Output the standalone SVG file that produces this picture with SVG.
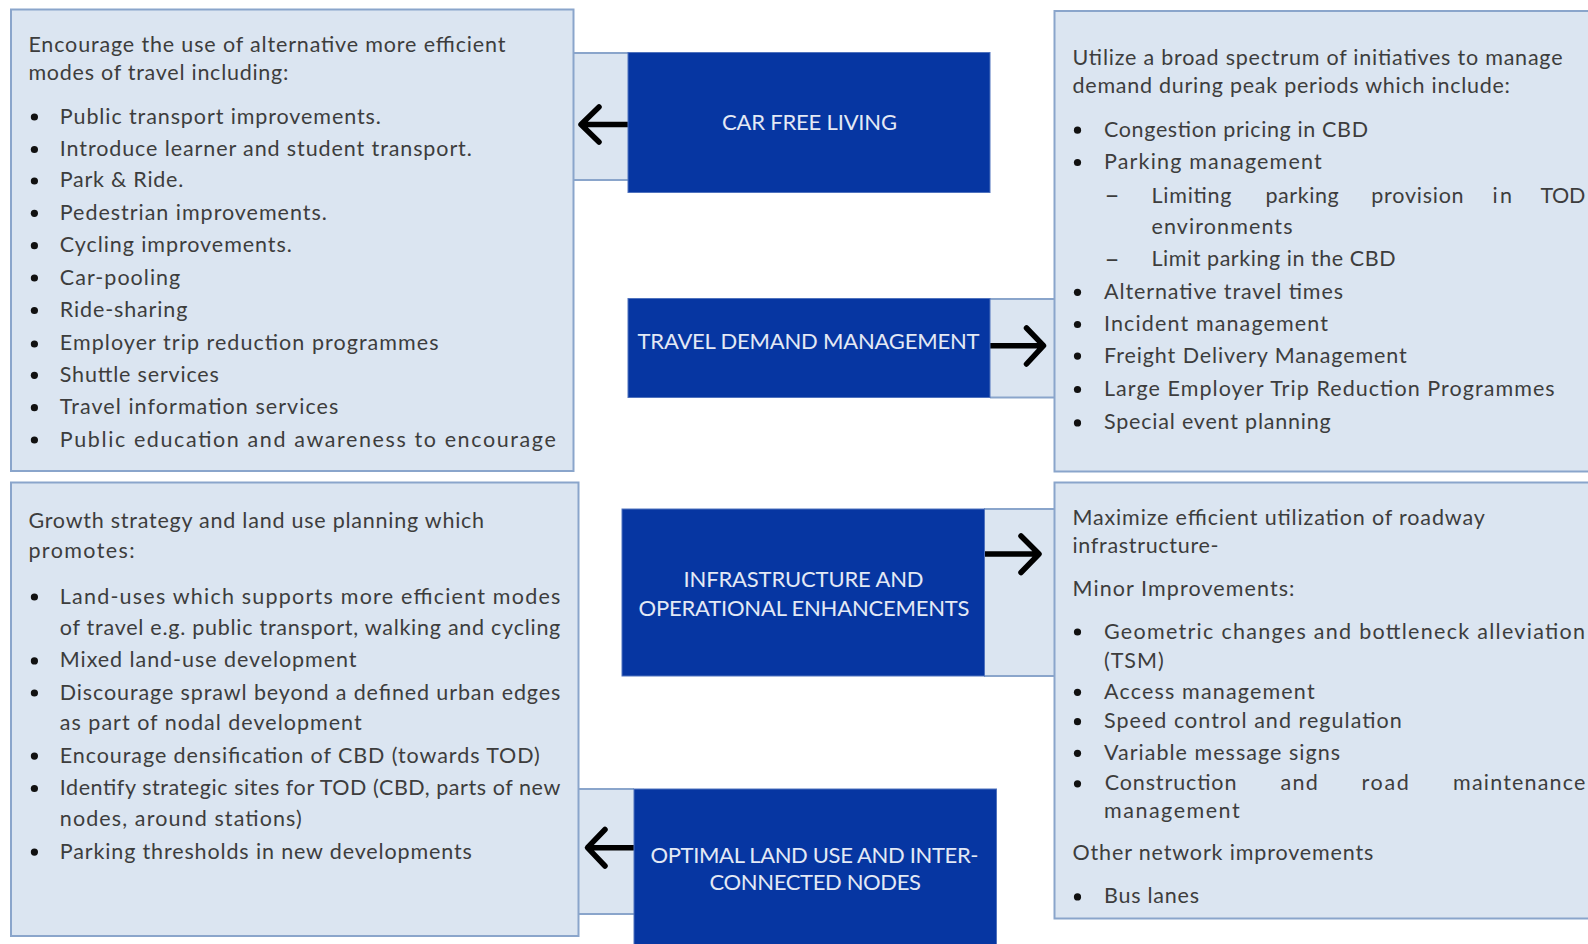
<svg xmlns="http://www.w3.org/2000/svg" width="1588" height="944" viewBox="0 0 1588 944">
<defs>
<style>
.box{fill:#dbe5f1;stroke:#8aa5cb;stroke-width:2}
.panel{fill:#dbe5f1;stroke:none}
.pline{stroke:#8aa5cb;stroke-width:2;fill:none}
.blue{fill:#0636a2;stroke:#4f72bd;stroke-width:1}
.t{font-family:Lato,'Open Sans','Liberation Sans',sans-serif;font-size:21.5px;fill:#3d3d3d}
.d{font-family:Lato,'Open Sans','Liberation Sans',sans-serif;font-size:26px;fill:#3d3d3d}
.lbl{font-family:Lato,'Open Sans','Liberation Sans',sans-serif;font-size:22px;fill:#e3e9f5}
.b{fill:#111}
.arrow{fill:none;stroke:#000;stroke-width:5.5;stroke-linecap:round;stroke-linejoin:round}
</style>
</defs>
<rect width="1588" height="944" fill="#ffffff"/>

<g id="connectors">
  <rect class="panel" x="573.5" y="53" width="54.5" height="127"/>
  <path class="pline" d="M573.5,53 H628 M573.5,180 H628"/>
  <rect class="panel" x="990" y="299" width="64.5" height="98.5"/>
  <path class="pline" d="M990,299 H1054.5 M990,397.5 H1054.5"/>
  <rect class="panel" x="984" y="509" width="70.5" height="167"/>
  <path class="pline" d="M984,509 H1054.5 M984,676 H1054.5"/>
  <rect class="panel" x="578.5" y="789" width="55.5" height="125"/>
  <path class="pline" d="M578.5,789 H634 M578.5,914 H634"/>
  <path class="arrow" d="M628,124.5 H582 M599,107 L581,124.5 L599,142"/>
  <path class="arrow" d="M990,345.7 H1042 M1026.5,328 L1043.5,345.7 L1026.5,364"/>
  <path class="arrow" d="M984,554 H1037.5 M1021,536 L1039,554 L1021,572.5"/>
  <path class="arrow" d="M634,847.7 H589 M605,829.5 L587.5,847.7 L605,866"/>
</g>

<g id="box-alt-modes">
  <rect class="box" x="11" y="9.5" width="562.5" height="461.5"/>
  <text class="t" x="28.4" y="52" textLength="477" lengthAdjust="spacing">Encourage the use of alternative more efficient</text>
  <text class="t" x="28.4" y="80" textLength="260" lengthAdjust="spacing">modes of travel including:</text>
  <circle class="b" cx="34.4" cy="117" r="3.6"/><text class="t" x="59.8" y="123.6" textLength="321" lengthAdjust="spacing">Public transport improvements.</text>
  <circle class="b" cx="34.4" cy="149.5" r="3.6"/><text class="t" x="59.8" y="156" textLength="412" lengthAdjust="spacing">Introduce learner and student transport.</text>
  <circle class="b" cx="34.4" cy="181" r="3.6"/><text class="t" x="59.8" y="187.4" textLength="123.5" lengthAdjust="spacing">Park &amp; Ride.</text>
  <circle class="b" cx="34.4" cy="213.3" r="3.6"/><text class="t" x="59.8" y="219.8" textLength="267" lengthAdjust="spacing">Pedestrian improvements.</text>
  <circle class="b" cx="34.4" cy="245.7" r="3.6"/><text class="t" x="59.8" y="252.2" textLength="232" lengthAdjust="spacing">Cycling improvements.</text>
  <circle class="b" cx="34.4" cy="278" r="3.6"/><text class="t" x="59.8" y="284.6" textLength="120.5" lengthAdjust="spacing">Car-pooling</text>
  <circle class="b" cx="34.4" cy="310.5" r="3.6"/><text class="t" x="59.8" y="317" textLength="127.6" lengthAdjust="spacing">Ride-sharing</text>
  <circle class="b" cx="34.4" cy="344" r="3.6"/><text class="t" x="59.8" y="350.4" textLength="378.7" lengthAdjust="spacing">Employer trip reduction programmes</text>
  <circle class="b" cx="34.4" cy="375.3" r="3.6"/><text class="t" x="59.8" y="381.8" textLength="159" lengthAdjust="spacing">Shuttle services</text>
  <circle class="b" cx="34.4" cy="407.7" r="3.6"/><text class="t" x="59.8" y="414.2" textLength="278.5" lengthAdjust="spacing">Travel information services</text>
  <circle class="b" cx="34.4" cy="440" r="3.6"/><text class="t" x="59.8" y="446.6" textLength="496" lengthAdjust="spacing">Public education and awareness to encourage</text>
</g>

<g id="box-demand">
  <rect class="box" x="1054.5" y="11" width="560" height="460.5"/>
  <text class="t" x="1072.5" y="65" textLength="490" lengthAdjust="spacing">Utilize a broad spectrum of initiatives to manage</text>
  <text class="t" x="1072.5" y="93.2" textLength="437.5" lengthAdjust="spacing">demand during peak periods which include:</text>
  <circle class="b" cx="1077.5" cy="130.2" r="3.6"/><text class="t" x="1104" y="136.7" textLength="264" lengthAdjust="spacing">Congestion pricing in CBD</text>
  <circle class="b" cx="1077.5" cy="162.5" r="3.6"/><text class="t" x="1104" y="169" textLength="217.7" lengthAdjust="spacing">Parking management</text>
  <text class="d" x="1104.5" y="204">–</text>
  <text class="t" x="1151.5" y="202.6" textLength="80" lengthAdjust="spacing">Limiting</text>
  <text class="t" x="1265.4" y="202.6" textLength="73.4" lengthAdjust="spacing">parking</text>
  <text class="t" x="1371.3" y="202.6" textLength="92.3" lengthAdjust="spacing">provision</text>
  <text class="t" x="1492.6" y="202.6" textLength="19.3" lengthAdjust="spacing">in</text>
  <text class="t" x="1540.5" y="202.6" textLength="44.8" lengthAdjust="spacing">TOD</text>
  <text class="t" x="1151.5" y="234" textLength="141" lengthAdjust="spacing">environments</text>
  <text class="d" x="1104.5" y="267.8">–</text>
  <text class="t" x="1151.5" y="266.4" textLength="244" lengthAdjust="spacing">Limit parking in the CBD</text>
  <circle class="b" cx="1077.5" cy="292.3" r="3.6"/><text class="t" x="1104" y="298.8" textLength="239" lengthAdjust="spacing">Alternative travel times</text>
  <circle class="b" cx="1077.5" cy="324.5" r="3.6"/><text class="t" x="1104" y="331" textLength="224" lengthAdjust="spacing">Incident management</text>
  <circle class="b" cx="1077.5" cy="356.1" r="3.6"/><text class="t" x="1104" y="362.6" textLength="302.8" lengthAdjust="spacing">Freight Delivery Management</text>
  <circle class="b" cx="1077.5" cy="389.5" r="3.6"/><text class="t" x="1104" y="396" textLength="450.6" lengthAdjust="spacing">Large Employer Trip Reduction Programmes</text>
  <circle class="b" cx="1077.5" cy="422.9" r="3.6"/><text class="t" x="1104" y="429.4" textLength="226.8" lengthAdjust="spacing">Special event planning</text>
</g>

<g id="box-land-use">
  <rect class="box" x="11" y="482.5" width="567.5" height="453.5"/>
  <text class="t" x="28.4" y="528" textLength="455.7" lengthAdjust="spacing">Growth strategy and land use planning which</text>
  <text class="t" x="28.4" y="557.5" textLength="106.3" lengthAdjust="spacing">promotes:</text>
  <circle class="b" cx="34.4" cy="597" r="3.6"/><text class="t" x="59.8" y="603.5" textLength="500.5" lengthAdjust="spacing">Land-uses which supports more efficient modes</text>
  <text class="t" x="59.8" y="635" textLength="500.5" lengthAdjust="spacing">of travel e.g. public transport, walking and cycling</text>
  <circle class="b" cx="34.4" cy="660.9" r="3.6"/><text class="t" x="59.8" y="667.4" textLength="296.7" lengthAdjust="spacing">Mixed land-use development</text>
  <circle class="b" cx="34.4" cy="693" r="3.6"/><text class="t" x="59.8" y="699.5" textLength="500.5" lengthAdjust="spacing">Discourage sprawl beyond a defined urban edges</text>
  <text class="t" x="59.8" y="730.2" textLength="301.8" lengthAdjust="spacing">as part of nodal development</text>
  <circle class="b" cx="34.4" cy="756.1" r="3.6"/><text class="t" x="59.8" y="762.6" textLength="480" lengthAdjust="spacing">Encourage densification of CBD (towards TOD)</text>
  <circle class="b" cx="34.4" cy="788.5" r="3.6"/><text class="t" x="59.8" y="795" textLength="500.5" lengthAdjust="spacing">Identify strategic sites for TOD (CBD, parts of new</text>
  <text class="t" x="59.8" y="826.4" textLength="242" lengthAdjust="spacing">nodes, around stations)</text>
  <circle class="b" cx="34.4" cy="852.1" r="3.6"/><text class="t" x="59.8" y="858.6" textLength="412" lengthAdjust="spacing">Parking thresholds in new developments</text>
</g>

<g id="box-infrastructure">
  <rect class="box" x="1054.5" y="482.5" width="560" height="436"/>
  <text class="t" x="1072.5" y="525" textLength="412.3" lengthAdjust="spacing">Maximize efficient utilization of roadway</text>
  <text class="t" x="1072.5" y="553" textLength="146" lengthAdjust="spacing">infrastructure-</text>
  <text class="t" x="1072.5" y="595.5" textLength="222" lengthAdjust="spacing">Minor Improvements:</text>
  <circle class="b" cx="1077.5" cy="632" r="3.6"/><text class="t" x="1104" y="638.5" textLength="481" lengthAdjust="spacing">Geometric changes and bottleneck alleviation</text>
  <text class="t" x="1104" y="667.6" textLength="59.7" lengthAdjust="spacing">(TSM)</text>
  <circle class="b" cx="1077.5" cy="692.3" r="3.6"/><text class="t" x="1104" y="698.8" textLength="210.6" lengthAdjust="spacing">Access management</text>
  <circle class="b" cx="1077.5" cy="721.7" r="3.6"/><text class="t" x="1104" y="728.2" textLength="297.7" lengthAdjust="spacing">Speed control and regulation</text>
  <circle class="b" cx="1077.5" cy="753.3" r="3.6"/><text class="t" x="1104" y="759.8" textLength="236" lengthAdjust="spacing">Variable message signs</text>
  <circle class="b" cx="1077.5" cy="783.8" r="3.6"/>
  <text class="t" x="1104.7" y="790.3" textLength="131.7" lengthAdjust="spacing">Construction</text>
  <text class="t" x="1280.5" y="790.3" textLength="37.4" lengthAdjust="spacing">and</text>
  <text class="t" x="1361.6" y="790.3" textLength="47.1" lengthAdjust="spacing">road</text>
  <text class="t" x="1453.1" y="790.3" textLength="132.2" lengthAdjust="spacing">maintenance</text>
  <text class="t" x="1104" y="818.3" textLength="135.7" lengthAdjust="spacing">management</text>
  <text class="t" x="1072.5" y="860" textLength="300.8" lengthAdjust="spacing">Other network improvements</text>
  <circle class="b" cx="1077.5" cy="896.9" r="3.6"/><text class="t" x="1104" y="903.4" textLength="95" lengthAdjust="spacing">Bus lanes</text>
</g>

<g id="node-car-free-living">
  <rect class="blue" x="628" y="52.5" width="362" height="140"/>
  <text class="lbl" x="722" y="130" textLength="175" lengthAdjust="spacing">CAR FREE LIVING</text>
</g>

<g id="node-travel-demand-management">
  <rect class="blue" x="628" y="298.5" width="362" height="99"/>
  <text class="lbl" x="637.5" y="349" textLength="342" lengthAdjust="spacing">TRAVEL DEMAND MANAGEMENT</text>
</g>

<g id="node-infrastructure">
  <rect class="blue" x="622" y="509" width="362.5" height="167"/>
  <text class="lbl" x="683.5" y="586.7" textLength="240" lengthAdjust="spacing">INFRASTRUCTURE AND</text>
  <text class="lbl" x="638.5" y="616" textLength="331" lengthAdjust="spacing">OPERATIONAL ENHANCEMENTS</text>
</g>

<g id="node-optimal-land-use">
  <rect class="blue" x="634" y="789" width="362.5" height="160"/>
  <text class="lbl" x="650.5" y="862.7" textLength="328" lengthAdjust="spacing">OPTIMAL LAND USE AND INTER-</text>
  <text class="lbl" x="709.5" y="890" textLength="211.5" lengthAdjust="spacing">CONNECTED NODES</text>
</g>
</svg>
